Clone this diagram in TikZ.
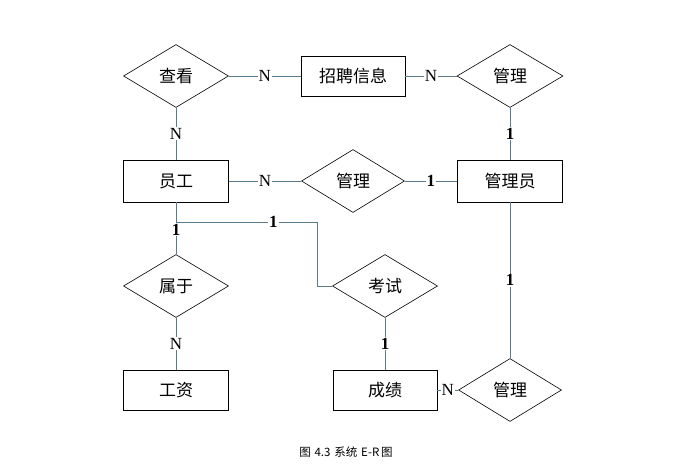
\documentclass[tikz,border=0pt]{standalone}
\usepackage{fontspec}
\setmainfont{Liberation Serif}
\newfontfamily\cjk{Noto Sans CJK SC}
\usetikzlibrary{shapes.geometric}
\definecolor{linec}{HTML}{5A7A8E}
\tikzset{
  ent/.style={draw=black, line width=0.7pt, rectangle, minimum width=105pt, minimum height=41pt, inner sep=0pt, font=\cjk\fontsize{17}{20}\selectfont},
  rel/.style={draw=black, line width=0.6pt, diamond, minimum width=105pt, minimum height=63pt, inner sep=0pt, font=\cjk\fontsize{17}{20}\selectfont},
  conn/.style={draw=linec, line width=0.8pt},
  labn/.style={fill=white, inner sep=1pt, font=\fontsize{17}{20}\selectfont},
  lab1/.style={fill=white, inner sep=1pt, font=\bfseries\fontsize{17}{20}\selectfont},
}
\begin{document}
\begin{tikzpicture}[x=1pt,y=-1pt]
\fill[white] (0,0) rectangle (677,466);
\useasboundingbox (0,0) rectangle (677,466);
% entities
\node[ent, minimum width=104pt, minimum height=40pt] (zp) at (353,76) {招聘信息};
\node[ent, minimum height=42pt] (yg) at (176,181) {员工};
\node[ent, minimum height=42pt] (gly) at (510,181) {管理员};
\node[ent, minimum height=40pt] (gz) at (176,390) {工资};
\node[ent, minimum width=104pt, minimum height=40pt] (cj) at (385,390) {成绩};
% relations
\node[rel] (ck) at (176,76) {查看};
\node[rel, minimum width=106pt] (gl1) at (510,76) {管理};
\node[rel, minimum width=103pt] (gl2) at (353,181) {管理};
\node[rel] (sy) at (176,286) {属于};
\node[rel] (ks) at (385,286) {考试};
\node[rel, minimum width=103pt] (gl3) at (510,390) {管理};
% caption
\node[font=\cjk\fontsize{11.5}{13}\selectfont, inner sep=0pt] (cap) at (346,452) {图\,\,4.3\,\,系统\,\,E-R\,图};
% helper coordinates
\coordinate (j) at (176,222);
\coordinate (bend) at (317,222);
% connectors
\draw[conn] (ck.east) -- node[labn]{N} (zp.west);
\draw[conn] (zp.east) -- node[labn]{N} (gl1.west);
\draw[conn] (gl1.south) -- node[lab1]{1} (gly.north);
\draw[conn] (ck.south) -- node[labn]{N} (yg.north);
\draw[conn] (yg.east) -- node[labn]{N} (gl2.west);
\draw[conn] (gl2.east) -- node[lab1]{1} (gly.west);
\draw[conn] (yg.south) -- node[lab1, pos=0.53]{1} (sy.north);
\draw[conn] (j) -- node[lab1, pos=0.69]{1} (bend) |- (ks.west);
\draw[conn] (ks.south) -- node[lab1]{1} (cj.north);
\draw[conn] (sy.south) -- node[labn]{N} (gz.north);
\draw[conn] (gly.south) -- node[lab1]{1} (gl3.north);
\draw[conn] (cj.east) -- node[labn]{N} (gl3.west);
\end{tikzpicture}
\end{document}
